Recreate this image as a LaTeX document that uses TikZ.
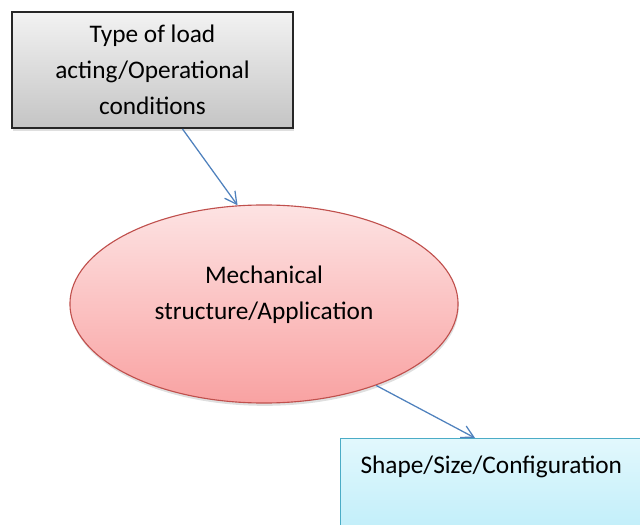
\documentclass[tikz,border=0pt]{standalone}
\usepackage{fontspec}
\setmainfont{Carlito}
\usetikzlibrary{arrows.meta, positioning, shapes.geometric, shadows}

\definecolor{linkblue}{HTML}{4F81BD}
\definecolor{appred}{HTML}{C0504D}
\definecolor{shapecyan}{HTML}{4BACC6}
\definecolor{cyantop}{HTML}{E2F8FD}
\definecolor{cyanbot}{HTML}{A6E6F6}
\definecolor{redtop}{HTML}{FDE3E3}
\definecolor{redbot}{HTML}{F9A2A2}

\begin{document}
\begin{tikzpicture}[
x=0.025cm, y=-0.025cm,
every node/.style={font=\fontsize{18}{25.5}\selectfont},
loadbox/.style={draw=black!85, line width=1.4pt, top color=black!5, bottom color=black!23,
  minimum width=7.025cm, minimum height=2.9cm, align=center,
  drop shadow={shadow xshift=0.5pt, shadow yshift=-2pt, opacity=0.25}},
appellipse/.style={ellipse, draw=appred, line width=0.8pt, top color=redtop, bottom color=redbot,
  minimum width=9.7cm, minimum height=4.95cm, inner sep=0pt, align=center, text depth=0.55cm,
  drop shadow={shadow xshift=0.5pt, shadow yshift=-2pt, opacity=0.25}},
shapebox/.style={draw=shapecyan, line width=0.8pt, top color=cyantop, bottom color=cyanbot,
  text width=7cm, inner xsep=0.5cm, inner ysep=0.38cm, text height=14pt, text depth=3cm, align=left},
link/.style={draw=linkblue, line width=0.9pt, -{Straight Barb[length=3mm, width=3.2mm]}}
]

\useasboundingbox (0,0) rectangle (640,525);

\node[loadbox] (load) at (152.5,70) {Type of load\\acting/Operational\\conditions};

\node[appellipse] (app) at (264,304) {Mechanical\\structure/Application};

\node[shapebox, anchor=north west] (shape) at (340,438) {Shape/Size/Configuration};

\draw[link] ([xshift=0.75cm]load.south) -- (app.105);
\draw[link] (app.-36.5) -- ([xshift=3.375cm]shape.north west);

\end{tikzpicture}
\end{document}
